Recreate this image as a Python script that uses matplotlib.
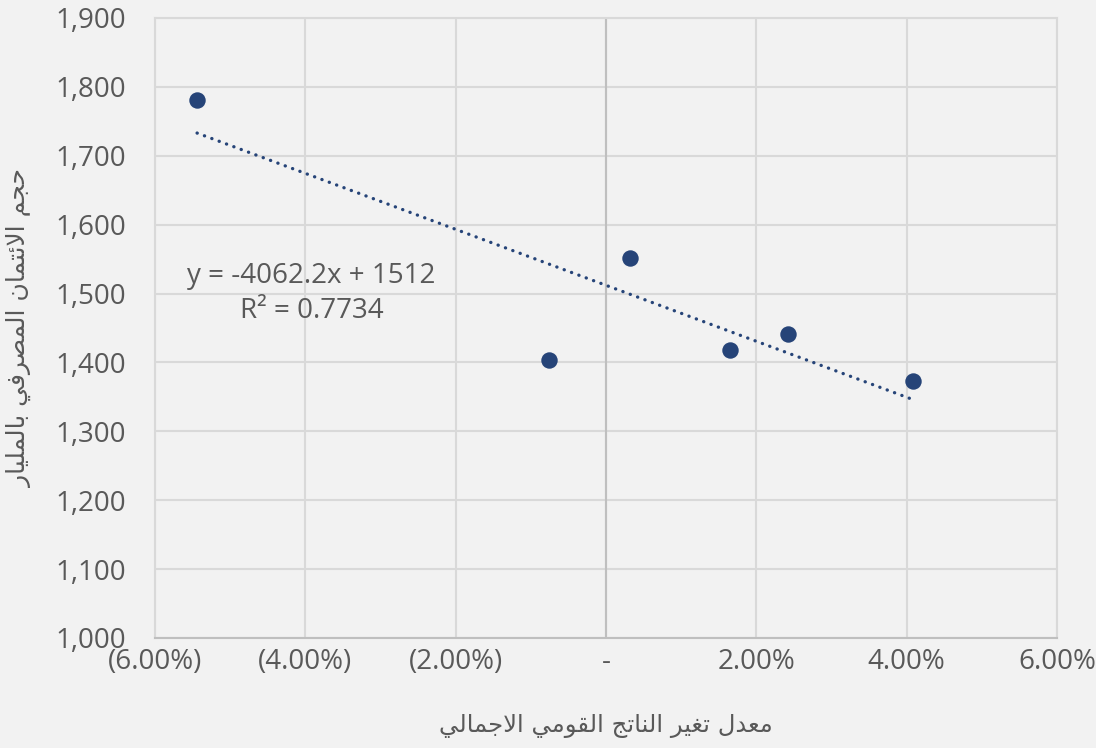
import matplotlib
matplotlib.use("Agg")
import matplotlib.pyplot as plt
import numpy as np

# ---------------- data ----------------
gdp_change = [-0.0544, -0.0076, 0.0032, 0.0165, 0.0242, 0.0408]
credit_volume = [1781, 1404, 1551, 1418, 1441, 1373]
x_ticks = [-0.06, -0.04, -0.02, 0.0, 0.02, 0.04, 0.06]
x_tick_labels = ["(6.00%)", "(4.00%)", "(2.00%)", "-", "2.00%", "4.00%", "6.00%"]
y_ticks = [1000, 1100, 1200, 1300, 1400, 1500, 1600, 1700, 1800, 1900]
y_tick_labels = ["1,000", "1,100", "1,200", "1,300", "1,400", "1,500",
                 "1,600", "1,700", "1,800", "1,900"]
trend_slope = -4062.2
trend_intercept = 1512
equation_text = "y = -4062.2x + 1512\nR² = 0.7734"
x_label = "معدل تغير الناتج القومي الاجمالي"
y_label = "حجم الائتمان المصرفي بالمليار"

# ------------- minimal Arabic shaping (presentation forms) -------------
FORMS = {  # isolated, final, initial, medial
    'ا': ('\uFE8D', '\uFE8E', None, None),
    'ب': ('\uFE8F', '\uFE90', '\uFE91', '\uFE92'),
    'ت': ('\uFE95', '\uFE96', '\uFE97', '\uFE98'),
    'ج': ('\uFE9D', '\uFE9E', '\uFE9F', '\uFEA0'),
    'ح': ('\uFEA1', '\uFEA2', '\uFEA3', '\uFEA4'),
    'د': ('\uFEA9', '\uFEAA', None, None),
    'ر': ('\uFEAD', '\uFEAE', None, None),
    'ص': ('\uFEB9', '\uFEBA', '\uFEBB', '\uFEBC'),
    'ع': ('\uFEC9', '\uFECA', '\uFECB', '\uFECC'),
    'غ': ('\uFECD', '\uFECE', '\uFECF', '\uFED0'),
    'ف': ('\uFED1', '\uFED2', '\uFED3', '\uFED4'),
    'ق': ('\uFED5', '\uFED6', '\uFED7', '\uFED8'),
    'ل': ('\uFEDD', '\uFEDE', '\uFEDF', '\uFEE0'),
    'م': ('\uFEE1', '\uFEE2', '\uFEE3', '\uFEE4'),
    'ن': ('\uFEE5', '\uFEE6', '\uFEE7', '\uFEE8'),
    'و': ('\uFEED', '\uFEEE', None, None),
    'ي': ('\uFEF1', '\uFEF2', '\uFEF3', '\uFEF4'),
    'ئ': ('\uFE89', '\uFE8A', '\uFE8B', '\uFE8C'),
    'LA': ('\uFEFB', '\uFEFC', None, None),
}


def shape(text):
    toks = []
    i = 0
    while i < len(text):
        c = text[i]
        if c == 'ل' and i + 1 < len(text) and text[i + 1] == 'ا':
            toks.append('LA')
            i += 2
        else:
            toks.append(c)
            i += 1
    out = []
    for k, t in enumerate(toks):
        if t not in FORMS:
            out.append(t)
            continue
        prev = toks[k - 1] if k > 0 else None
        nxt = toks[k + 1] if k + 1 < len(toks) else None
        cp = prev in FORMS and FORMS[prev][2] is not None
        cn = nxt in FORMS and FORMS[t][2] is not None
        iso, fin, ini, med = FORMS[t]
        if cp and cn:
            out.append(med)
        elif cp:
            out.append(fin)
        elif cn:
            out.append(ini)
        else:
            out.append(iso)
    return ''.join(out)[::-1]


# ---------------- style ----------------
BG = "#f2f2f2"
GRID = "#d9d9d9"
AXIS = "#bfbfbf"
TXT = "#595959"
MARK = "#264478"

plt.rcParams['font.family'] = ['Open Sans', 'DejaVu Sans']

fig = plt.figure(figsize=(10.96, 7.48), dpi=100, facecolor=BG)
ax = fig.add_axes([155 / 1096, 1 - 638 / 748, (1057 - 155) / 1096, (638 - 18) / 748])
ax.set_facecolor(BG)

ax.set_xlim(-0.06, 0.06)
ax.set_ylim(1000, 1900)
ax.set_xticks(x_ticks)
ax.set_xticklabels(x_tick_labels)
ax.set_yticks(y_ticks)
ax.set_yticklabels(y_tick_labels)
ax.tick_params(axis='both', length=0, colors=TXT, labelsize=20)
ax.tick_params(axis='y', pad=21)
ax.tick_params(axis='x', pad=7)

ax.grid(True, color=GRID, linewidth=1.5, zorder=0)
ax.set_axisbelow(True)
for side in ['left', 'top', 'right']:
    ax.spines[side].set_color(GRID)
    ax.spines[side].set_linewidth(1.5)
ax.spines['bottom'].set_color(AXIS)
ax.spines['bottom'].set_linewidth(1.5)
ax.axvline(0, color=AXIS, linewidth=1.5, zorder=1)

xs = np.array(gdp_change)
ax.scatter(xs, credit_volume, s=140, color=MARK, zorder=3, linewidths=0)

tx = np.array([xs.min(), xs.max()])
ax.plot(tx, trend_intercept + trend_slope * tx, color=MARK, linewidth=2.4,
        linestyle=(0, (0.05, 2.3)), dash_capstyle='round', zorder=2)

ax.text(-0.0392, 1500, equation_text, ha='center', va='center', fontsize=20,
        color=TXT, linespacing=1.3, multialignment='center')

fig.text(606 / 1096, 1 - 726 / 748, shape(x_label), ha='center', va='center',
         fontsize=17.5, color=TXT, family=['DejaVu Sans'])
fig.text(19 / 1096, 1 - 328 / 748, shape(y_label), ha='center', va='center',
         rotation=90, fontsize=18, color=TXT, family=['DejaVu Sans'])

fig.savefig("out.png", dpi=100, facecolor=BG)
